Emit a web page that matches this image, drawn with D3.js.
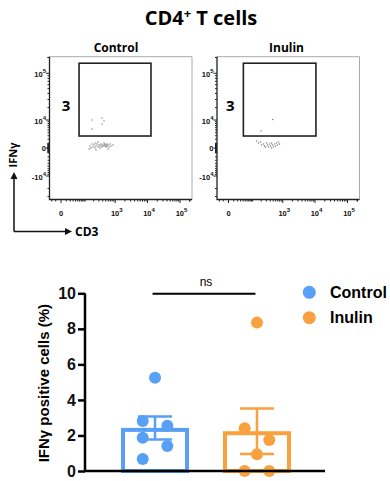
<!DOCTYPE html>
<html>
<head>
<meta charset="utf-8">
<script src="https://cdn.jsdelivr.net/npm/d3@7"></script>
<style>
  body { margin: 0; background: #fff; }
  svg { display: block; }
</style>
</head>
<body>
<div id="chart"></div>
<script>
// flow panels: events as [CD3, IFNg] in fluorescence units
const panelTitles = ["Control", "Inulin"];
const gateLabels = ["3", "3"];
const gates = [
  { x0: 57, x1: 12800, y0: 2920, y1: 155700 },
  { x0: 41, x1: 10700, y0: 2920, y1: 155700 }
];
const controlEvents = [
  [149, 390], [162, 0], [175, 810], [190, 190], [205, 600], [222, 1040], [222, 0],
  [240, 390], [259, 810], [280, 190], [280, 1280], [302, 600], [326, 390], [326, 0],
  [351, 810], [378, 600], [378, 190], [408, 390], [439, 1040], [439, 600], [473, 390],
  [473, 810], [510, 600], [510, 190], [549, 390], [549, 810], [590, 600], [636, 190],
  [684, 810], [736, 390], [850, 600], [138, -190], [240, -390], [590, -190],
  [175, 10000], [378, 11300], [439, 9400], [175, 5450], [378, 7800]
];
const inulinEvents = [
  [138, 1520], [162, 1040], [190, 1280], [205, 600], [240, 810], [259, 390],
  [302, 1040], [326, 600], [351, 190], [378, 810], [408, 390], [439, 1040],
  [473, 600], [510, 190], [549, 810], [590, 390], [636, 1040], [684, 600],
  [736, 1280], [790, 810], [439, 0], [280, 190],
  [480, 10300], [200, 4650]
];
const panelEvents = [controlEvents, inulinEvents];
const xTickLabels = [[0, null], [1e3, "3"], [1e4, "4"], [1e5, "5"]];
const yTickLabels = [[1e5, "10", "5"], [1e4, "10", "4"], [0, "0", null], [-1e4, "-10", "4"]];

// bar chart
const groups = ["Control", "Inulin"];
const controlValues = [5.25, 2.81, 2.55, 1.87, 1.41, 0.67];
const inulinValues = [8.35, 2.40, 1.74, 0.94, 0, 0];
const controlSlots = [0, -1, 1, -1, 1, -1];
const inulinSlots = [0, -1, 1, 0, -1, 1];
const yTicks = [0, 2, 4, 6, 8, 10];
const colors = ["#589ff6", "#f9a13f"];

const W = 390, H = 481;
const svg = d3.select("#chart").append("svg")
  .attr("width", W).attr("height", H);

svg.append("text")
  .attr("x", 201).attr("y", 25)
  .attr("text-anchor", "middle")
  .style("font-family", "'Open Sans', sans-serif")
  .style("font-weight", 700).style("font-size", "20px")
  .text("CD4")
  .append("tspan").attr("dy", -7).style("font-size", "13px").text("+")
  .append("tspan").attr("dy", 7).style("font-size", "20px").text(" T cells");

// ---------- flow panels ----------
const xF = d3.scaleSymlog().constant(22).domain([0, 1e5]).range([61, 180]);
const yF = d3.scaleSymlog().constant(4400).domain([-1e4, 1e5]).range([176, 73.3]);
const frame = { l: 49.5, r: 192, t: 56.7, b: 199.5 };

function minorTicks(maxExp, minVal) {
  const t = [];
  for (let e = 1; e <= maxExp; e++) {
    for (let m = 1; m <= 9; m++) {
      const v = m * Math.pow(10, e);
      t.push(v);
      if (v <= minVal) t.push(-v);
    }
  }
  t.push(0, 2e5);
  return t;
}

panelTitles.forEach((title, i) => {
  const g = svg.append("g").attr("transform", `translate(${i * 167.5},0)`);
  const font = "'Liberation Sans', Arial, sans-serif";

  g.append("text")
    .attr("x", 116 + i * 3).attr("y", 52)
    .attr("text-anchor", "middle")
    .style("font-family", "'Open Sans', sans-serif")
    .style("font-weight", 700).style("font-size", "12px")
    .text(title);

  // frame
  g.append("path")
    .attr("d", `M${frame.l},${frame.t}H${frame.r}V${frame.b}`)
    .attr("fill", "none").attr("stroke", "#aaa").attr("stroke-width", 1);
  g.append("path")
    .attr("d", `M${frame.l},${frame.t}V${frame.b}H${frame.r}`)
    .attr("fill", "none").attr("stroke", "#222").attr("stroke-width", 1.3);

  // x ticks
  const xt = minorTicks(5, 20).filter(v => xF(v) > frame.l && xF(v) < frame.r);
  g.selectAll(".xt").data(xt).join("line")
    .attr("x1", d => xF(d)).attr("x2", d => xF(d))
    .attr("y1", frame.b)
    .attr("y2", d => frame.b + (xTickLabels.some(t => t[0] === d) ? 3.5 : 2))
    .attr("stroke", "#222").attr("stroke-width", 1);

  // y ticks
  const yt = minorTicks(5, 30000).filter(v => yF(v) > frame.t && yF(v) < frame.b);
  g.selectAll(".yt").data(yt).join("line")
    .attr("y1", d => yF(d)).attr("y2", d => yF(d))
    .attr("x1", frame.l)
    .attr("x2", d => frame.l - (yTickLabels.some(t => t[0] === d) ? 3.5 : 2))
    .attr("stroke", "#222").attr("stroke-width", 1);

  xTickLabels.forEach(([v, sup]) => {
    const t = g.append("text")
      .attr("x", xF(v) + (sup ? 1.5 : 0)).attr("y", 216)
      .attr("text-anchor", "middle").attr("fill", "#111")
      .style("font-family", font).style("font-weight", 700).style("font-size", "7.5px")
      .text(sup ? "10" : "0");
    if (sup) t.append("tspan").attr("dy", -4).style("font-size", "6px").text(sup);
  });
  yTickLabels.forEach(([v, base, sup]) => {
    const t = g.append("text")
      .attr("x", 46).attr("y", yF(v) + (sup ? 4 : 2.5))
      .attr("text-anchor", "end").attr("fill", "#111")
      .style("font-family", font).style("font-weight", 700).style("font-size", "7.5px")
      .text(base);
    if (sup) t.append("tspan").attr("dy", -4).style("font-size", "6px").text(sup);
  });

  // events
  g.selectAll(".ev").data(panelEvents[i]).join("circle")
    .attr("cx", d => xF(d[0])).attr("cy", d => yF(d[1]))
    .attr("r", 0.75).attr("fill", "#555").attr("opacity", 0.75);

  // gate
  const gt = gates[i];
  g.append("rect")
    .attr("x", xF(gt.x0)).attr("y", yF(gt.y1))
    .attr("width", xF(gt.x1) - xF(gt.x0)).attr("height", yF(gt.y0) - yF(gt.y1))
    .attr("fill", "none").attr("stroke", "#222").attr("stroke-width", 1.6);
  g.append("text")
    .attr("x", xF(gt.x0) - 13).attr("y", 111)
    .attr("text-anchor", "middle")
    .style("font-family", "'Open Sans', sans-serif")
    .style("font-weight", 700).style("font-size", "15px")
    .text(gateLabels[i]);
});

// axis arrows
svg.append("path").attr("d", "M14,231.5V176M14,231.5H67")
  .attr("fill", "none").attr("stroke", "#111").attr("stroke-width", 1.5);
svg.append("path").attr("d", "M14,172L10.5,179H17.5Z").attr("fill", "#111");
svg.append("path").attr("d", "M72,231.5L65,228V235Z").attr("fill", "#111");
svg.append("text").attr("x", 75).attr("y", 236)
  .style("font-family", "'Open Sans', sans-serif").style("font-weight", 700).style("font-size", "12px")
  .text("CD3");
svg.append("text").attr("transform", "translate(17,155) rotate(-90)")
  .attr("text-anchor", "middle")
  .style("font-family", "'Open Sans', sans-serif").style("font-weight", 700).style("font-size", "11px")
  .text("IFNγ");

// ---------- bar chart ----------
const x = d3.scaleBand().domain(groups).range([104, 308]).paddingInner(0.333).paddingOuter(0.167);
const y = d3.scaleLinear().domain([0, 10]).range([471, 293.3]);
const bfont = "'Liberation Sans', Arial, sans-serif";

const series = [
  { name: groups[0], values: controlValues, slots: controlSlots, color: colors[0] },
  { name: groups[1], values: inulinValues, slots: inulinSlots, color: colors[1] }
];
series.forEach(s => {
  s.mean = d3.mean(s.values);
  s.sem = d3.deviation(s.values) / Math.sqrt(s.values.length);
});

const yAxis = svg.append("g").attr("transform", "translate(85,0)")
  .call(d3.axisLeft(y).tickValues(yTicks).tickSize(7).tickPadding(2).tickFormat(d3.format("d")));
yAxis.select(".domain").attr("stroke-width", 2.5).attr("d", `M0,${y(10)}V${y(0)}`);
yAxis.selectAll(".tick line").attr("stroke-width", 2.5);
yAxis.selectAll("text")
  .style("font-family", bfont).style("font-weight", 700).style("font-size", "16px").attr("fill", "#111");

svg.selectAll(".bar").data(series).join("rect")
  .attr("x", d => x(d.name) + 2).attr("width", x.bandwidth() - 4)
  .attr("y", d => y(d.mean) + 2).attr("height", d => y(0) - y(d.mean) - 2)
  .attr("fill", "none").attr("stroke", d => d.color).attr("stroke-width", 4);

series.forEach(s => {
  const cx = x(s.name) + x.bandwidth() / 2;
  const lo = y(s.mean - s.sem), hi = y(s.mean + s.sem);
  svg.append("path")
    .attr("d", `M${cx},${lo}V${hi}M${cx - 17},${hi}H${cx + 17}M${cx - 17},${lo}H${cx + 17}`)
    .attr("stroke", s.color).attr("stroke-width", 2.5).attr("fill", "none");
  svg.selectAll(null).data(s.values).join("circle")
    .attr("cx", (d, j) => cx + s.slots[j] * 12.3)
    .attr("cy", d => y(d))
    .attr("r", 6).attr("fill", s.color);
});

svg.append("line").attr("x1", 84).attr("x2", 325).attr("y1", y(0)).attr("y2", y(0))
  .attr("stroke", "#000").attr("stroke-width", 2.5);

svg.append("text")
  .attr("transform", `translate(49,${(y(0) + y(10)) / 2 + 1}) rotate(-90)`)
  .attr("text-anchor", "middle")
  .style("font-family", bfont).style("font-weight", 700).style("font-size", "15px")
  .text("IFNγ positive cells (%)");

// significance
const c0 = x(groups[0]) + x.bandwidth() / 2, c1 = x(groups[1]) + x.bandwidth() / 2;
svg.append("line").attr("x1", c0 - 2.5).attr("x2", c1 - 1.5).attr("y1", 293.7).attr("y2", 293.7)
  .attr("stroke", "#000").attr("stroke-width", 2);
svg.append("text").attr("x", (c0 + c1) / 2).attr("y", 286)
  .attr("text-anchor", "middle")
  .style("font-family", bfont).style("font-size", "12px")
  .text("ns");

// legend
groups.forEach((gname, i) => {
  const ly = 292.3 + i * 25.4;
  svg.append("circle").attr("cx", 309.3).attr("cy", ly).attr("r", 6.5).attr("fill", colors[i]);
  svg.append("text").attr("x", 330).attr("y", ly + 5.5)
    .style("font-family", bfont).style("font-weight", 700).style("font-size", "16px")
    .text(gname);
});
</script>
</body>
</html>
